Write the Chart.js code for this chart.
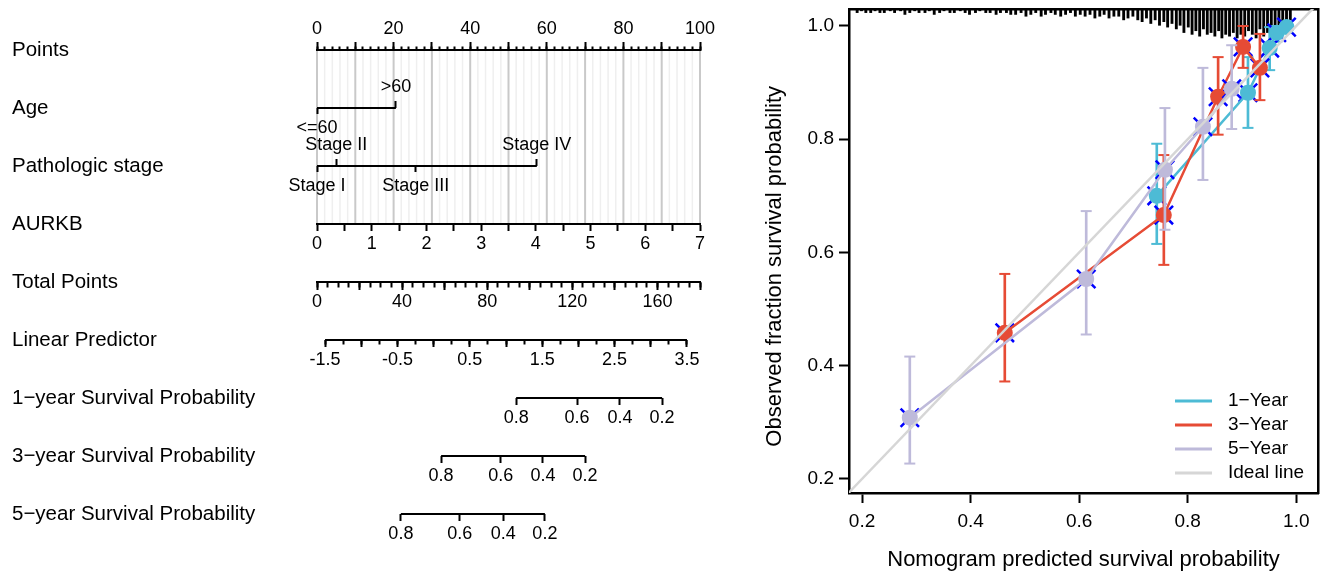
<!DOCTYPE html>
<html>
<head>
<meta charset="utf-8">
<script src="https://cdn.jsdelivr.net/npm/chart.js@4.4.1/dist/chart.umd.min.js"></script>
<style>
  html, body { margin: 0; padding: 0; background: #fff; }
  #wrap { position: relative; width: 1327px; height: 577px; overflow: hidden; }
  #nomo { position: absolute; left: 0; top: 0; }
  #calib { position: absolute; left: 760px; top: 0; }
</style>
</head>
<body>
<div id="wrap">
  <canvas id="nomo" width="760" height="577"></canvas>
  <canvas id="calib" width="567" height="577"></canvas>
</div>
<script>
// ---------- nomogram (positions are in "Points", 0-100) ----------
const rowNames = ["Points", "Age", "Pathologic stage", "AURKB", "Total Points", "Linear Predictor",
  "1−year Survival Probability", "3−year Survival Probability", "5−year Survival Probability"]
const ageLevels = ["<=60", ">60"]
const agePoints = [0, 20.6]
const stageLevels = ["Stage I", "Stage II", "Stage III", "Stage IV"]
const stagePoints = [0, 5.0, 25.8, 57.4]
const aurkbRange = [0, 7]
const totalRange = [0, 180]
const lpRange = [-1.5, 3.5]
const lpAtPoints = [-1.611, 3.68]   // linear predictor at 0 and 100 points
const survLabels = ["0.8", "0.6", "0.4", "0.2"]
const surv1Points = [52.0, 67.9, 79.1, 90.1]
const surv3Points = [32.4, 48.0, 59.0, 70.0]
const surv5Points = [21.9, 37.3, 48.6, 59.5]

// ---------- calibration curves ----------
const xLim = [0.176, 1.04]
const yLim = [0.175, 1.03]

const year1X = [0.743, 0.911, 0.951, 0.964, 0.982]
const year1Y = [0.700, 0.882, 0.961, 0.988, 0.998]
const year1Lo = [0.615, 0.820, 0.922, 0.972, 0.990]
const year1Hi = [0.792, 0.945, 0.998, 1.000, 1.000]

const year3X = [0.463, 0.756, 0.856, 0.902, 0.933]
const year3Y = [0.458, 0.666, 0.875, 0.963, 0.926]
const year3Lo = [0.372, 0.578, 0.808, 0.926, 0.869]
const year3Hi = [0.562, 0.772, 0.945, 1.000, 0.986]

const year5X = [0.288, 0.613, 0.758, 0.828, 0.881]
const year5Y = [0.308, 0.553, 0.746, 0.822, 0.889]
const year5Lo = [0.227, 0.455, 0.640, 0.728, 0.818]
const year5Hi = [0.416, 0.673, 0.855, 0.926, 0.966]

// distribution of predicted probabilities (spikes hanging from the top)
const rugX = [
  0.191, 0.199, 0.207, 0.216, 0.224, 0.233, 0.241, 0.252, 0.26, 0.271, 0.279, 0.288, 0.297, 0.305, 0.316, 0.324, 0.333,
  0.343, 0.351, 0.362, 0.37, 0.381, 0.39, 0.398, 0.409, 0.417, 0.428, 0.436, 0.447, 0.455, 0.466, 0.474,
  0.483, 0.493, 0.502, 0.511, 0.52, 0.53, 0.538, 0.548, 0.556, 0.566, 0.575, 0.584, 0.593, 0.602,
  0.611, 0.62, 0.629, 0.638, 0.646, 0.655, 0.664, 0.673, 0.682, 0.69, 0.699, 0.708,
  0.716, 0.724, 0.732, 0.74, 0.748, 0.756, 0.763, 0.771, 0.779, 0.786,
  0.793, 0.801, 0.808, 0.815, 0.822, 0.829, 0.836, 0.843, 0.85, 0.857, 0.863, 0.87, 0.877, 0.884, 0.891, 0.898,
  0.905, 0.912, 0.919, 0.926, 0.933, 0.94, 0.947, 0.954, 0.961, 0.968, 0.975, 0.982, 0.989
]
const rugCount = [
  2, 1, 2, 2, 1, 2, 2, 1, 2, 1, 3, 2, 1, 2, 2, 1, 3,
  2, 1, 2, 2, 1, 2, 3, 2, 1, 2, 2, 3, 2, 2, 3,
  3, 2, 4, 3, 2, 4, 3, 2, 3, 4, 3, 2, 4, 3,
  4, 3, 5, 4, 3, 5, 4, 4, 6, 5, 4, 6,
  7, 5, 8, 6, 9, 7, 10, 8, 11, 9,
  13, 10, 14, 12, 15, 11, 14, 13, 15, 12, 16, 14, 15, 13, 16, 14,
  15, 12, 14, 16, 11, 15, 13, 14, 10, 15, 12, 9, 6
]
const rugUnit = 0.0032

const legendNames = ["1−Year", "3−Year", "5−Year", "Ideal line"]
const seriesColors = ["#4DBBD5", "#E64B35", "#BEBADA", "#D6D6D6"]

Chart.defaults.font.family = "'Liberation Sans', Arial, sans-serif"
Chart.defaults.color = "#000"

//////////////// left panel: nomogram
const tickFont = 18

// one horizontal axis per row, placed at that row of the y scale
function rowAxis(o) {
  const lh = tickFont * 1.2
  const off = o.up ? -20.5 : 20.5
  return {
    axis: "x",
    type: "linear",
    position: { y: o.row },
    min: o.min === undefined ? 0 : o.min,
    max: o.max === undefined ? 100 : o.max,
    offset: false,
    border: { display: !!o.line, color: "#000", width: 2 },
    grid: { drawOnChartArea: false, offset: false, tickLength: o.tick, tickWidth: 2, tickColor: "#000" },
    ticks: {
      autoSkip: false, maxRotation: 0, minRotation: 0, includeBounds: false,
      stepSize: o.step, color: "#000", font: { size: tickFont },
      padding: off - o.tick - lh / 2,
      callback: o.label || (() => "")
    },
    afterBuildTicks: o.at ? (s) => { s.ticks = o.at.map((v) => ({ value: v })) } : undefined
  }
}

function segment(axisId, row, a, b) {
  return {
    type: "line", xAxisID: axisId, yAxisID: "y",
    data: [{ x: a, y: row }, { x: b, y: row }],
    borderColor: "#000", borderWidth: 2, pointRadius: 0, clip: false
  }
}

// light grid between the Points axis and the AURKB axis
const rowGrid = {
  id: "rowGrid",
  beforeDraw(chart) {
    const xs = chart.scales.xPts
    const ys = chart.scales.y
    const top = ys.getPixelForValue(0) + 1
    const bottom = ys.getPixelForValue(3) - 1
    const ctx = chart.ctx
    ctx.save()
    xs.ticks.forEach((t) => {
      const px = xs.getPixelForValue(t.value)
      const major = t.value % 10 === 0
      ctx.strokeStyle = major ? "#c9c9c9" : "#efefef"
      ctx.lineWidth = major ? 2 : 1.5
      ctx.beginPath()
      ctx.moveTo(px, top)
      ctx.lineTo(px, bottom)
      ctx.stroke()
    })
    ctx.restore()
  }
}

new Chart(document.getElementById("nomo"), {
  type: "line",
  data: {
    datasets: [
      segment("xPts", 1, agePoints[0], agePoints[1]),
      segment("xPts", 2, stagePoints[0], stagePoints[3]),
      segment("xLp", 5, lpRange[0], lpRange[1]),
      segment("xPts", 6, surv1Points[0], surv1Points[3]),
      segment("xPts", 7, surv3Points[0], surv3Points[3]),
      segment("xPts", 8, surv5Points[0], surv5Points[3])
    ]
  },
  options: {
    responsive: false,
    animation: false,
    events: [],
    layout: { autoPadding: false, padding: { left: 12, right: 60, top: 50, bottom: 63 } },
    plugins: { legend: { display: false }, tooltip: { enabled: false } },
    scales: {
      y: {
        type: "linear", position: "left", reverse: true, min: 0, max: 8,
        grid: { display: false }, border: { display: false },
        ticks: { stepSize: 1, autoSkip: false, crossAlign: "far", color: "#000", font: { size: 20.5 },
          callback: (v) => rowNames[v] },
        afterFit: (s) => { s.width = 305 }
      },
      xPts: rowAxis({ row: 0, step: 2, tick: -4.5, up: true, line: true,
        label: (v) => v % 20 === 0 ? String(v) : "" }),
      xPtsMajor: rowAxis({ row: 0, step: 10, tick: -8, up: true }),
      xAgeLow: rowAxis({ row: 1, at: [agePoints[0]], tick: 6, label: () => ageLevels[0] }),
      xAgeHigh: rowAxis({ row: 1, at: [agePoints[1]], tick: -7, up: true, label: () => ageLevels[1] }),
      xStageLow: rowAxis({ row: 2, at: [stagePoints[0], stagePoints[2]], tick: 6,
        label: (v, i) => [stageLevels[0], stageLevels[2]][i] }),
      xStageHigh: rowAxis({ row: 2, at: [stagePoints[1], stagePoints[3]], tick: -7, up: true,
        label: (v, i) => [stageLevels[1], stageLevels[3]][i] }),
      xAurkb: rowAxis({ row: 3, min: aurkbRange[0], max: aurkbRange[1], step: 0.5, tick: 6, line: true,
        label: (v) => Number.isInteger(v) ? String(v) : "" }),
      xTotal: rowAxis({ row: 4, min: totalRange[0], max: totalRange[1], step: 5, tick: 4.5, line: true,
        label: (v) => v % 40 === 0 ? String(v) : "" }),
      xTotalMajor: rowAxis({ row: 4, min: totalRange[0], max: totalRange[1], step: 20, tick: 8 }),
      xLp: rowAxis({ row: 5, min: lpAtPoints[0], max: lpAtPoints[1], step: 0.25, tick: 4.5,
        label: (v) => Math.abs((v - lpRange[0]) % 1) < 1e-6 ? v.toFixed(1) : "" }),
      xLpMajor: rowAxis({ row: 5, min: lpAtPoints[0], max: lpAtPoints[1], step: 0.5, tick: 7 }),
      xSurv1: rowAxis({ row: 6, at: surv1Points, tick: 7, label: (v, i) => survLabels[i] }),
      xSurv3: rowAxis({ row: 7, at: surv3Points, tick: 7, label: (v, i) => survLabels[i] }),
      xSurv5: rowAxis({ row: 8, at: surv5Points, tick: 7, label: (v, i) => survLabels[i] })
    }
  },
  plugins: [rowGrid]
})

//////////////// right panel: calibration
function calSeries(color, xs, ys, lo, hi, base) {
  const pts = xs.map((x, i) => ({ x: x, y: ys[i] }))
  return [
    { type: "bar", data: xs.map((x, i) => ({ x: x, y: [lo[i], hi[i]] })),
      backgroundColor: color, barThickness: 2, grouped: false, order: base + 3 },
    { type: "line", data: xs.flatMap((x, i) => [{ x: x, y: lo[i] }, { x: x, y: hi[i] }]),
      showLine: false, pointStyle: "line", pointRadius: 5.5, pointBorderColor: color, pointBorderWidth: 2, order: base + 2 },
    { type: "line", data: pts, showLine: false, pointStyle: "crossRot", pointRadius: 13,
      pointBorderColor: "#0000ff", pointBorderWidth: 2.5, order: base + 1 },
    { type: "line", data: pts, borderColor: color, borderWidth: 2.5, pointRadius: 8,
      pointBackgroundColor: color, pointBorderColor: color, pointBorderWidth: 0, order: base }
  ]
}

const insetLegend = {
  id: "insetLegend",
  afterDraw(chart) {
    const { ctx, chartArea } = chart
    ctx.save()
    ctx.font = "19px 'Liberation Sans', Arial, sans-serif"
    ctx.textBaseline = "middle"
    ctx.textAlign = "left"
    legendNames.forEach((name, i) => {
      const y = chartArea.bottom - 92 + i * 24
      ctx.strokeStyle = seriesColors[i]
      ctx.lineWidth = 3
      ctx.beginPath()
      ctx.moveTo(chartArea.right - 143, y)
      ctx.lineTo(chartArea.right - 106, y)
      ctx.stroke()
      ctx.fillStyle = "#000"
      ctx.fillText(name, chartArea.right - 90, y)
    })
    ctx.restore()
  }
}

const frame = { color: "#000", width: 2.5 }
// keep tick-label overhang from moving the plot box
const noPad = (s) => { s.paddingLeft = 0; s.paddingRight = 0; s.paddingTop = 0; s.paddingBottom = 0 }

new Chart(document.getElementById("calib"), {
  type: "line",
  data: {
    datasets: [
      { type: "bar", data: rugX.map((x, i) => ({ x: x, y: [yLim[1] - rugCount[i] * rugUnit, yLim[1]] })),
        backgroundColor: "#000", barThickness: 2.2, grouped: false, order: 100 },
      ...calSeries(seriesColors[0], year1X, year1Y, year1Lo, year1Hi, 40),
      ...calSeries(seriesColors[1], year3X, year3Y, year3Lo, year3Hi, 30),
      ...calSeries(seriesColors[2], year5X, year5Y, year5Lo, year5Hi, 20),
      { type: "line", data: [{ x: 0, y: 0 }, { x: 1.1, y: 1.1 }], borderColor: seriesColors[3],
        borderWidth: 2.5, pointRadius: 0, order: 1 }
    ]
  },
  options: {
    responsive: false,
    animation: false,
    events: [],
    layout: { autoPadding: false, padding: { left: 0, right: 9, top: 9, bottom: 0 } },
    plugins: { legend: { display: false }, tooltip: { enabled: false } },
    scales: {
      x: {
        type: "linear", position: "bottom", min: xLim[0], max: xLim[1], offset: false,
        border: frame,
        grid: { drawOnChartArea: false, offset: false, tickLength: 10, tickWidth: 2, tickColor: "#000" },
        ticks: { stepSize: 0.2, includeBounds: false, autoSkip: false, maxRotation: 0, padding: 7,
          color: "#000", font: { size: 19 }, callback: (v) => v.toFixed(1) },
        title: { display: true, text: "Nomogram predicted survival probability", color: "#000",
          font: { size: 22 }, padding: { top: 0, bottom: 4 } },
        afterFit: (s) => { s.height = 84; noPad(s) }
      },
      y: {
        type: "linear", position: "left", min: yLim[0], max: yLim[1],
        border: frame,
        grid: { drawOnChartArea: false, tickLength: 10, tickWidth: 2, tickColor: "#000" },
        ticks: { stepSize: 0.2, includeBounds: false, autoSkip: false, padding: 5,
          color: "#000", font: { size: 19 }, callback: (v) => v.toFixed(1) },
        title: { display: true, text: "Observed fraction survival probability     ", color: "#000",
          font: { size: 22 }, padding: { top: 2, bottom: 0 } },
        afterFit: (s) => { s.width = 89; noPad(s) }
      },
      xTop: {
        axis: "x", type: "linear", position: "top", min: xLim[0], max: xLim[1],
        border: frame, grid: { drawOnChartArea: false, drawTicks: false }, ticks: { display: false },
        afterFit: (s) => { s.height = 0; noPad(s) }
      },
      yRight: {
        axis: "y", type: "linear", position: "right", min: yLim[0], max: yLim[1],
        border: frame, grid: { drawOnChartArea: false, drawTicks: false }, ticks: { display: false },
        afterFit: (s) => { s.width = 0; noPad(s) }
      }
    }
  },
  plugins: [insetLegend]
})
</script>
</body>
</html>
